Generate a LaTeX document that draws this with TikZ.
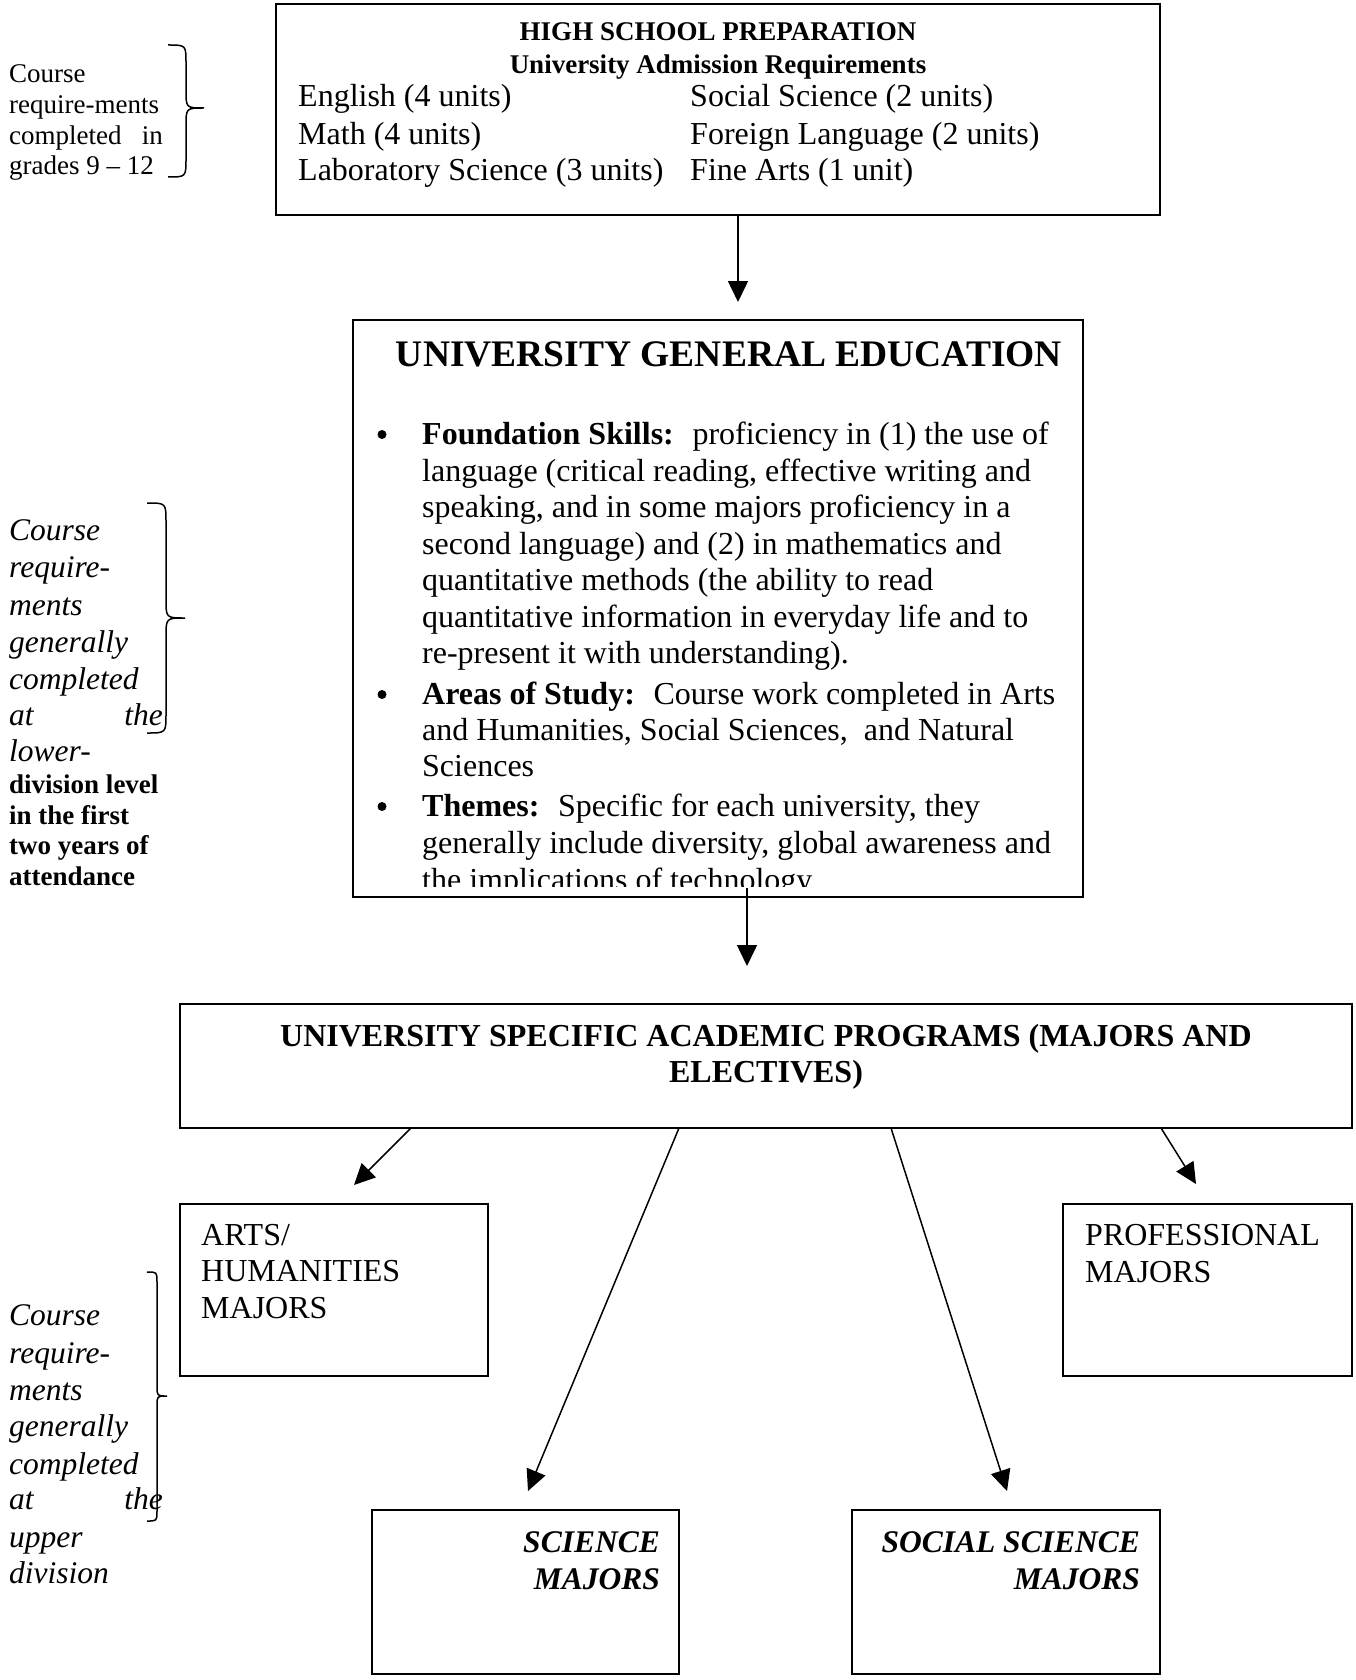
\documentclass[tikz,border=0pt]{standalone}
\usepackage{fontspec}
\setmainfont{Liberation Serif}
\usetikzlibrary{arrows.meta}
\begin{document}
\begin{tikzpicture}[x=1pt,y=-1pt,
  box/.style={draw, line width=1.8pt, rectangle, inner sep=0pt, outer sep=0pt, anchor=north west},
  conn/.style={line width=1.5pt, -{Triangle[length=21pt,width=20pt]}},
  brc/.style={line width=1.5pt},
  dot/.style={circle, fill, inner sep=0pt, minimum size=9pt},
  big/.style={font=\fontsize{32}{37}\selectfont, inner sep=0pt, anchor=base west},
  bigc/.style={big, anchor=base},
  ital/.style={font=\fontsize{31.5}{37}\selectfont\itshape, inner sep=0pt, anchor=base west},
  itale/.style={ital, anchor=base east},
  small/.style={font=\fontsize{27}{31}\selectfont, inner sep=0pt, anchor=base west},
  smalle/.style={small, anchor=base east},
  smallb/.style={font=\fontsize{27}{31}\selectfont\bfseries, inner sep=0pt, anchor=base west},
  hd/.style={font=\fontsize{27}{31}\selectfont\bfseries, inner sep=0pt, anchor=base},
  hdbig/.style={font=\fontsize{32}{37}\selectfont\bfseries, inner sep=0pt, anchor=base},
  bi/.style={font=\fontsize{31.5}{37}\selectfont\bfseries\itshape, inner sep=0pt, anchor=base east}
]
\useasboundingbox (0,0) rectangle (1356,1680);

% ---------- boxes ----------
\node[box, minimum width=884pt, minimum height=211pt] (hs) at (276,4) {};
\node[box, minimum width=730pt, minimum height=577pt] (ge) at (353,320) {};
\node[box, minimum width=1172pt, minimum height=124pt] (prog) at (180,1004) {};
\node[box, minimum width=308pt, minimum height=172pt] (arts) at (180,1204) {};
\node[box, minimum width=289pt, minimum height=172pt] (prof) at (1063,1204) {};
\node[box, minimum width=307pt, minimum height=164pt] (sci) at (372,1510) {};
\node[box, minimum width=308pt, minimum height=164pt] (soc) at (852,1510) {};

% ---------- high school box text ----------
\node[hd] (hst1) at (718,41) {HIGH SCHOOL PREPARATION};
\node[hd] (hst2) at (718,74) {University Admission Requirements};
\node[big] (hsl1) at (298,107) {English (4 units)};
\node[big] (hsr1) at (690,107) {Social Science (2 units)};
\node[big] (hsl2) at (298,145) {Math (4 units)};
\node[big] (hsr2) at (690,145) {Foreign Language (2 units)};
\node[big] (hsl3) at (298,181) {Laboratory Science (3 units)};
\node[big] (hsr3) at (690,181) {Fine Arts (1 unit)};

% ---------- general education box text ----------
\node[font=\fontsize{37.5}{44}\selectfont\bfseries, inner sep=0pt, anchor=base] (get) at (729,366) {UNIVERSITY GENERAL EDUCATION};
\node[dot] (b1) at (382,434.5) {};
\node[big] (f1) at (422,444.5) {\textbf{Foundation Skills:}~ proficiency in (1) the use of};
\node[big] (f2) at (422,481) {language (critical reading, effective writing and};
\node[big] (f3) at (422,517.5) {speaking, and in some majors proficiency in a};
\node[big] (f4) at (422,554) {second language) and (2) in mathematics and};
\node[big] (f5) at (422,590.5) {quantitative methods (the ability to read};
\node[big] (f6) at (422,627) {quantitative information in everyday life and to};
\node[big] (f7) at (422,663.5) {re-present it with understanding).};
\node[dot] (b2) at (382,694.5) {};
\node[big] (s1) at (422,704.5) {\textbf{Areas of Study:}~ Course work completed in Arts};
\node[big] (s2) at (422,740.5) {and Humanities, Social Sciences,~ and Natural};
\node[big] (s3) at (422,776.5) {Sciences};
\node[dot] (b3) at (382,806.5) {};
\node[big] (t1) at (422,816.5) {\textbf{Themes:}~ Specific for each university, they};
\node[big] (t2) at (422,853) {generally include diversity, global awareness and};
\begin{scope}
  \clip (353,320) rectangle (1083,886);
  \node[big] (t3) at (422,890) {the implications of technology};
\end{scope}

% ---------- programs box text ----------
\node[hdbig] (pt1) at (766,1046) {UNIVERSITY SPECIFIC ACADEMIC PROGRAMS (MAJORS AND};
\node[hdbig] (pt2) at (766,1082) {ELECTIVES)};

% ---------- majors text ----------
\node[big] (ar1) at (201,1245) {ARTS/};
\node[big] (ar2) at (201,1281) {HUMANITIES};
\node[big] (ar3) at (201,1318) {MAJORS};
\node[big] (pr1) at (1085,1245) {PROFESSIONAL};
\node[big] (pr2) at (1085,1282) {MAJORS};
\node[bi] (sc1) at (660,1552) {SCIENCE};
\node[bi] (sc2) at (660,1589) {MAJORS};
\node[bi] (so1) at (1140,1552) {SOCIAL SCIENCE};
\node[bi] (so2) at (1140,1589) {MAJORS};

% ---------- left annotations ----------
\node[small] (n1a) at (9,83) {Course};
\node[small] (n1b) at (9,114) {require-ments};
\node[small] (n1c) at (9,145) {completed};
\node[smalle] (n1d) at (163,145) {in};
\node[small] (n1e) at (9,175) {grades 9 – 12};

\node[ital] (n2a) at (9,540) {Course};
\node[ital] (n2b) at (9,577.5) {require-};
\node[ital] (n2c) at (9,615) {ments};
\node[ital] (n2d) at (9,652.5) {generally};
\node[ital] (n2e) at (9,689) {completed};
\node[ital] (n2f) at (9,725) {at};
\node[itale] (n2g) at (163,725) {the};
\node[ital] (n2h) at (9,761.5) {lower-};
\node[smallb] (n2i) at (9,793.5) {division level};
\node[smallb] (n2j) at (9,824.5) {in the first};
\node[smallb] (n2k) at (9,854.5) {two years of};
\node[smallb] (n2l) at (9,885.5) {attendance};

\node[ital] (n3a) at (9,1325) {Course};
\node[ital] (n3b) at (9,1363) {require-};
\node[ital] (n3c) at (9,1400) {ments};
\node[ital] (n3d) at (9,1436.5) {generally};
\node[ital] (n3e) at (9,1474) {completed};
\node[ital] (n3f) at (9,1509.5) {at};
\node[itale] (n3g) at (163,1509.5) {the};
\node[ital] (n3h) at (9,1547) {upper};
\node[ital] (n3i) at (9,1583) {division};

% ---------- braces ----------
\draw[brc] (168,45) .. controls (186,45) .. (186,63) -- (186,90)
  .. controls (186,108) .. (204,108) .. controls (186,108) .. (186,126)
  -- (186,159) .. controls (186,177) .. (168,177);
\draw[brc] (147,503) .. controls (166,503) .. (166,522) -- (166,599)
  .. controls (166,618) .. (185,618) .. controls (166,618) .. (166,637)
  -- (166,714) .. controls (166,733) .. (147,733);
\draw[brc] (147,1272) .. controls (157,1272) .. (157,1282) -- (157,1386)
  .. controls (157,1396) .. (167,1396) .. controls (157,1396) .. (157,1406)
  -- (157,1511) .. controls (157,1521) .. (147,1521);

% ---------- connectors ----------
\coordinate (e1) at (738,302);
\coordinate (s2c) at (747,888);
\coordinate (e2) at (747,966);
\coordinate (ea) at (354,1185);
\coordinate (es) at (528,1491);
\coordinate (eo) at (1007,1491);
\coordinate (ep) at (1196,1184);
\draw[conn] (hs.south -| e1) -- (e1);
\draw[conn] (s2c) -- (e2);
\draw[conn] ([xshift=231pt]prog.south west) -- (ea);
\draw[conn] ([xshift=499pt]prog.south west) -- (es);
\draw[conn] ([xshift=711pt]prog.south west) -- (eo);
\draw[conn] ([xshift=981pt]prog.south west) -- (ep);
\end{tikzpicture}
\end{document}
